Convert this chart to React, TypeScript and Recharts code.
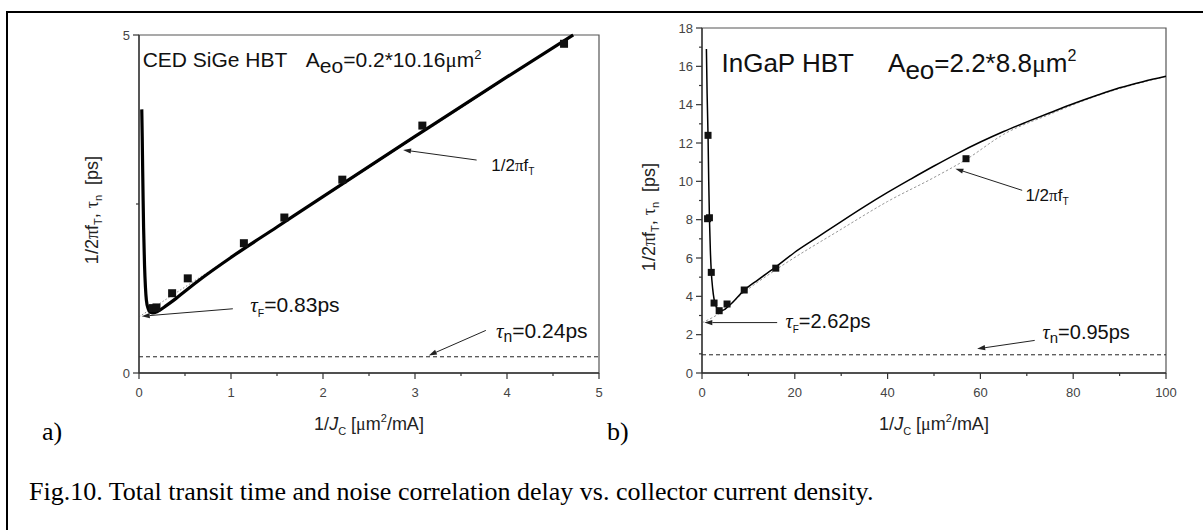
import React from "react";
import {
  ComposedChart,
  Line,
  Scatter,
  XAxis,
  YAxis,
  ReferenceLine,
  ReferenceDot,
  ReferenceArea,
} from "recharts";

// ---------- a) CED SiGe HBT ----------
const sigeFitX = [0.03, 0.035, 0.04, 0.045, 0.05, 0.06, 0.07, 0.08, 0.1, 0.12, 0.15, 0.2, 0.3, 0.4, 0.5, 0.7, 1.0, 1.5, 2.0, 3.0, 4.0, 4.72];
const sigeFitY = [3.9, 3.5, 3.0, 2.55, 2.15, 1.6, 1.27, 1.08, 0.95, 0.9, 0.89, 0.91, 1.0, 1.1, 1.21, 1.42, 1.71, 2.16, 2.61, 3.5, 4.38, 5.0];
const sigeMeasX = [0.15, 0.19, 0.36, 0.53, 1.14, 1.58, 2.21, 3.08, 4.62];
const sigeMeasY = [0.96, 0.97, 1.18, 1.4, 1.92, 2.3, 2.86, 3.66, 4.87];
const sigeExtX = [0, 4.72];
const sigeExtY = [0.83, 5.0];
const sigeTauN = 0.24;
const sigeXTicks = [0, 0.5, 1, 1.5, 2, 2.5, 3, 3.5, 4, 4.5, 5];
const sigeXLabels = [0, 1, 2, 3, 4, 5];
const sigeYTicks = [0, 2.5, 5];
const sigeYLabels = [0, 5];

// ---------- b) InGaP HBT ----------
const ingapFitX = [0.95, 1.1, 1.3, 1.45, 1.6, 1.8, 2.0, 2.3, 2.6, 3.0, 3.6, 4.5, 6, 9, 12, 16, 20, 25, 30, 35, 40, 45, 50, 55, 60, 65, 70, 75, 80, 85, 90, 95, 100];
const ingapFitY = [16.9, 14.6, 12.4, 10.0, 8.1, 6.4, 5.3, 4.4, 3.85, 3.5, 3.3, 3.28, 3.55, 4.3, 4.85, 5.55, 6.3, 7.1, 7.9, 8.68, 9.42, 10.12, 10.8, 11.45, 12.05, 12.6, 13.1, 13.58, 14.05, 14.48, 14.88, 15.2, 15.48];
const ingapMeasX = [1.3, 1.2, 1.6, 2.0, 2.6, 3.7, 5.4, 9.1, 15.9, 56.9];
const ingapMeasY = [12.4, 8.05, 8.1, 5.25, 3.65, 3.25, 3.6, 4.33, 5.47, 11.18];
const ingapExtX = [0, 4, 9, 16, 30, 40, 50, 57, 65, 75, 85, 100];
const ingapExtY = [2.62, 3.15, 4.2, 5.4, 7.5, 8.95, 10.2, 11.15, 12.45, 13.5, 14.45, 15.48];
const ingapTauN = 0.95;
const ingapXTicks = [0, 10, 20, 30, 40, 50, 60, 70, 80, 90, 100];
const ingapXLabels = [0, 20, 40, 60, 80, 100];
const ingapYTicks = [0, 1, 2, 3, 4, 5, 6, 7, 8, 9, 10, 11, 12, 13, 14, 15, 16, 17, 18];
const ingapYLabels = [0, 2, 4, 6, 8, 10, 12, 14, 16, 18];

const zip = (xs: number[], ys: number[]) => xs.map((x, i) => ({ x, y: ys[i] }));

const SANS = "'Liberation Sans', Arial, sans-serif";
const SERIF = "'Liberation Serif', 'Times New Roman', serif";

const makeXTick = (labels: number[]) => (p: any) => {
  const { x, y, payload } = p;
  const major = labels.includes(payload.value);
  return (
    <g>
      <line x1={x} x2={x} y1={y} y2={y + (major ? 6 : 3)} stroke="#333" strokeWidth={1.2} />
      {major && (
        <text x={x} y={y + 24} textAnchor="middle" fontSize={13} fill="#444" fontFamily={SANS}>
          {payload.value}
        </text>
      )}
    </g>
  );
};

const makeYTick = (labels: number[]) => (p: any) => {
  const { x, y, payload } = p;
  const major = labels.includes(payload.value);
  return (
    <g>
      <line x1={x - (major ? 6 : 3)} x2={x} y1={y} y2={y} stroke="#333" strokeWidth={1.2} />
      {major && (
        <text x={x - 9} y={y + 4.5} textAnchor="end" fontSize={13} fill="#444" fontFamily={SANS}>
          {payload.value}
        </text>
      )}
    </g>
  );
};

const Square = (size: number) => (p: any) => (
  <rect x={p.cx - size / 2} y={p.cy - size / 2} width={size} height={size} fill="#111" />
);

const Arrow = (p: any) => {
  const { x1, y1, x2, y2 } = p;
  const a = Math.atan2(y2 - y1, x2 - x1);
  const h = 8;
  const w = 2.6;
  const bx = x2 - h * Math.cos(a);
  const by = y2 - h * Math.sin(a);
  const pts = `${x2},${y2} ${bx - w * Math.sin(a)},${by + w * Math.cos(a)} ${bx + w * Math.sin(a)},${by - w * Math.cos(a)}`;
  return (
    <g>
      <line x1={x1} y1={y1} x2={bx} y2={by} stroke="#222" strokeWidth={1} />
      <polygon points={pts} fill="#222" />
    </g>
  );
};

// text helpers drawn at a data point
const FtLabel = (size: number) => (p: any) => (
  <text x={p.cx} y={p.cy} fontSize={size} fontFamily={SANS} fill="#111">
    1/2
    <tspan fontFamily={SERIF}>π</tspan>f
    <tspan fontSize={size * 0.6} dy={4}>T</tspan>
  </text>
);

const TauLabel = (sub: string, val: string, size: number) => (p: any) => (
  <text x={p.cx} y={p.cy} fontSize={size} fontFamily={SANS} fill="#111">
    <tspan fontFamily={SERIF} fontStyle="italic">τ</tspan>
    <tspan fontSize={size * (sub === "F" ? 0.5 : 0.75)} dy={sub === "F" ? 5 : 4}>{sub}</tspan>
    <tspan dy={sub === "F" ? -5 : -4}>{val}</tspan>
  </text>
);

const TitleLabel = (name: string, area: string, size: number, gap: number) => (p: any) => (
  <text x={p.cx} y={p.cy} fontSize={size} fontFamily={SANS} fill="#111">
    {name}
    <tspan dx={gap}>A</tspan>
    <tspan dy={size * 0.28}>eo</tspan>
    <tspan dy={-size * 0.28}>{area}</tspan>
    <tspan fontFamily={SERIF}>μ</tspan>m
    <tspan fontSize={size * 0.62} dy={-size * 0.42}>2</tspan>
  </text>
);

type Ann = { x: number; y: number; shape: (p: any) => React.ReactElement };
type Arr = { from: [number, number]; to: [number, number] };

const sigeTexts: Ann[] = [
  { x: 0.04, y: 4.52, shape: TitleLabel("CED SiGe HBT", "=0.2*10.16", 21, 20) },
  { x: 3.83, y: 2.99, shape: FtLabel(17) },
  { x: 1.21, y: 0.9, shape: TauLabel("F", "=0.83ps", 21) },
  { x: 3.88, y: 0.52, shape: TauLabel("n", "=0.24ps", 21) },
];
const sigeArrows: Arr[] = [
  { from: [3.67, 3.15], to: [2.87, 3.3] },
  { from: [1.02, 0.95], to: [0.03, 0.84] },
  { from: [3.77, 0.63], to: [3.15, 0.26] },
];

const ingapTexts: Ann[] = [
  { x: 4.2, y: 15.7, shape: TitleLabel("InGaP HBT", "=2.2*8.8", 26, 36) },
  { x: 69.7, y: 9.0, shape: FtLabel(17) },
  { x: 18, y: 2.35, shape: TauLabel("F", "=2.62ps", 20) },
  { x: 73.4, y: 1.75, shape: TauLabel("n", "=0.95ps", 20) },
];
const ingapArrows: Arr[] = [
  { from: [69, 9.53], to: [54.6, 10.66] },
  { from: [16.2, 2.63], to: [0.5, 2.63] },
  { from: [71.7, 1.7], to: [59.3, 1.26] },
];

type PanelProps = {
  left: number;
  top: number;
  width: number;
  height: number;
  margin: { top: number; right: number; bottom: number; left: number };
  xMax: number;
  yMax: number;
  xTicks: number[];
  xLabels: number[];
  yTicks: number[];
  yLabels: number[];
  fit: { x: number; y: number }[];
  ext: { x: number; y: number }[];
  meas: { x: number; y: number }[];
  tauN: number;
  fitWidth: number;
  extColor: string;
  extDash: string;
  sq: number;
  texts: Ann[];
  arrows: Arr[];
};

function Panel(p: PanelProps) {
  return (
    <div style={{ position: "absolute", left: p.left, top: p.top }}>
      <ComposedChart width={p.width} height={p.height} margin={p.margin}>
        <XAxis
          dataKey="x"
          type="number"
          domain={[0, p.xMax]}
          ticks={p.xTicks}
          interval={0}
          tickSize={0}
          tickMargin={0}
          tickLine={false}
          tick={makeXTick(p.xLabels)}
          height={30}
          stroke="#333"
          strokeWidth={1.3}
        />
        <YAxis
          dataKey="y"
          type="number"
          domain={[0, p.yMax]}
          ticks={p.yTicks}
          interval={0}
          tickSize={0}
          tickMargin={0}
          tickLine={false}
          tick={makeYTick(p.yLabels)}
          width={30}
          stroke="#333"
          strokeWidth={1.3}
        />
        <ReferenceArea x1={0} x2={p.xMax} y1={0} y2={p.yMax} fill="none" stroke="#555" strokeWidth={1.2} ifOverflow="visible" />
        <ReferenceLine y={p.tauN} stroke="#222" strokeDasharray="4 3" strokeWidth={1} />
        <Line data={p.ext} dataKey="y" type="monotone" stroke={p.extColor} strokeWidth={1} strokeDasharray={p.extDash} dot={false} activeDot={false} isAnimationActive={false} />
        <Line data={p.fit} dataKey="y" type="monotone" stroke="#000" strokeWidth={p.fitWidth} dot={false} activeDot={false} isAnimationActive={false} />
        <Scatter data={p.meas} dataKey="y" shape={Square(p.sq)} isAnimationActive={false} />
        {p.arrows.map((a, i) => (
          <ReferenceLine
            key={`ar${i}`}
            segment={[{ x: a.from[0], y: a.from[1] }, { x: a.to[0], y: a.to[1] }]}
            shape={Arrow}
            ifOverflow="visible"
          />
        ))}
        {p.texts.map((t, i) => (
          <ReferenceDot key={`tx${i}`} x={t.x} y={t.y} r={1} shape={t.shape} ifOverflow="visible" />
        ))}
      </ComposedChart>
    </div>
  );
}

const YTitle = ({ x, y }: { x: number; y: number }) => (
  <text transform={`translate(${x},${y}) rotate(-90)`} textAnchor="middle" fontSize={18} fontFamily={SANS} fill="#222">
    1/2<tspan fontFamily={SERIF}>π</tspan>f<tspan fontSize={11} dy={4}>T</tspan>
    <tspan dy={-4}>, </tspan>
    <tspan fontFamily={SERIF}>τ</tspan>
    <tspan fontSize={11} dy={4}>n</tspan>
    <tspan dy={-4} dx={10}>[ps]</tspan>
  </text>
);

const XTitle = ({ x, y }: { x: number; y: number }) => (
  <text x={x} y={y} textAnchor="middle" fontSize={18} fontFamily={SANS} fill="#222">
    1/<tspan fontStyle="italic">J</tspan>
    <tspan fontSize={11} dy={5}>C</tspan>
    <tspan dy={-5}> [</tspan>
    <tspan fontFamily={SERIF}>μ</tspan>m
    <tspan fontSize={11} dy={-8}>2</tspan>
    <tspan dy={8}>/mA]</tspan>
  </text>
);

export default function App() {
  return (
    <div style={{ position: "absolute", left: 0, top: 0, width: 1203, height: 530, overflow: "hidden", background: "#fff" }}>
      <div style={{ position: "absolute", left: 6, top: 11, width: 1400, height: 800, border: "2px solid #000" }} />
      <Panel
        left={60}
        top={20}
        width={560}
        height={420}
        margin={{ top: 15, right: 21, bottom: 37, left: 49 }}
        xMax={5}
        yMax={5}
        xTicks={sigeXTicks}
        xLabels={sigeXLabels}
        yTicks={sigeYTicks}
        yLabels={sigeYLabels}
        fit={zip(sigeFitX, sigeFitY)}
        ext={zip(sigeExtX, sigeExtY)}
        meas={zip(sigeMeasX, sigeMeasY)}
        tauN={sigeTauN}
        fitWidth={3.2}
        extColor="#888"
        extDash="1.5 2"
        sq={8}
        texts={sigeTexts}
        arrows={sigeArrows}
      />
      <Panel
        left={640}
        top={13}
        width={560}
        height={427}
        margin={{ top: 15, right: 34, bottom: 37, left: 32 }}
        xMax={100}
        yMax={18}
        xTicks={ingapXTicks}
        xLabels={ingapXLabels}
        yTicks={ingapYTicks}
        yLabels={ingapYLabels}
        fit={zip(ingapFitX, ingapFitY)}
        ext={zip(ingapExtX, ingapExtY)}
        meas={zip(ingapMeasX, ingapMeasY)}
        tauN={ingapTauN}
        fitWidth={1.5}
        extColor="#999"
        extDash="2.5 2"
        sq={7}
        texts={ingapTexts}
        arrows={ingapArrows}
      />
      <svg width={1203} height={530} style={{ position: "absolute", left: 0, top: 0, pointerEvents: "none" }}>
        <YTitle x={98} y={210} />
        <YTitle x={655} y={217} />
        <XTitle x={369} y={430} />
        <XTitle x={934} y={430} />
        <text x={42} y={440} fontSize={26} fontFamily={SERIF} fill="#000">a)</text>
        <text x={607} y={440} fontSize={26} fontFamily={SERIF} fill="#000">b)</text>
        <text x={29} y={500} fontSize={26} fontFamily={SERIF} fill="#000">
          Fig.10. Total transit time and noise correlation delay vs. collector current density.
        </text>
      </svg>
    </div>
  );
}
